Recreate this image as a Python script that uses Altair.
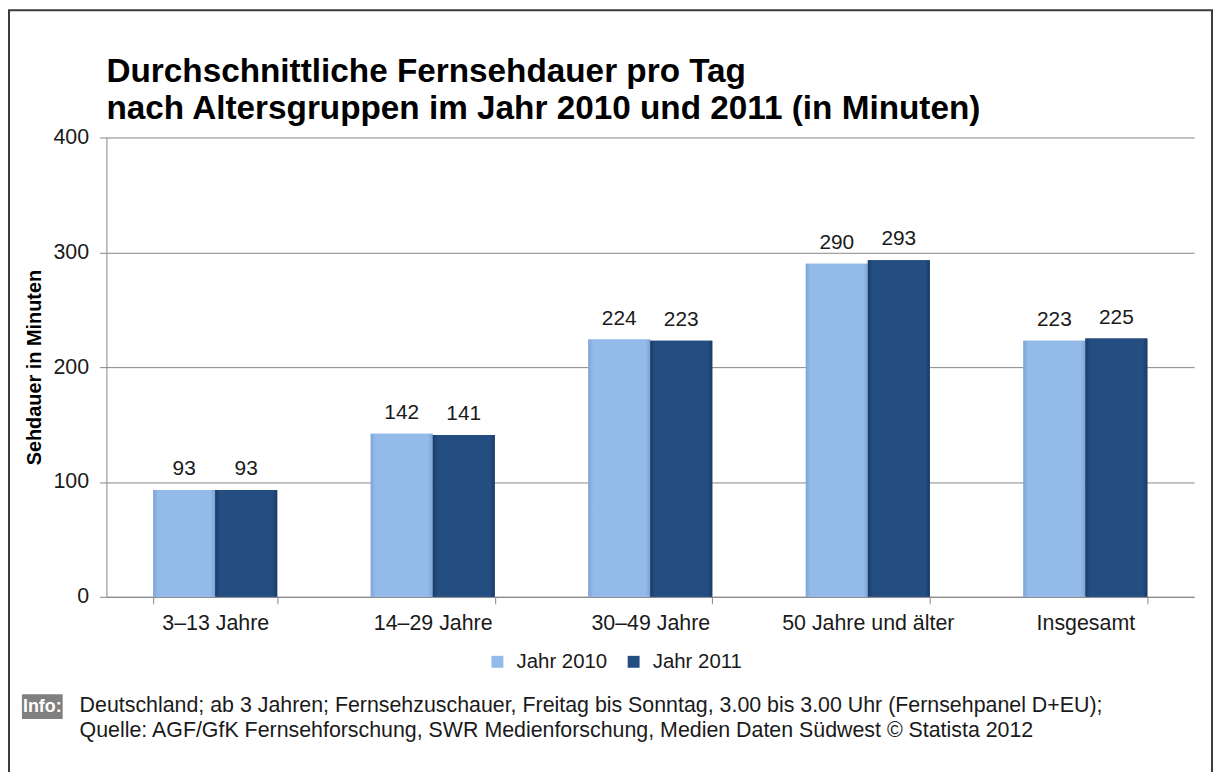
import altair as alt
import pandas as pd

categories = ["3–13 Jahre", "14–29 Jahre", "30–49 Jahre", "50 Jahre und älter", "Insgesamt"]
years = ["Jahr 2010", "Jahr 2011"]
v2010 = [93, 142, 224, 290, 223]
v2011 = [93, 141, 223, 293, 225]
y_ticks = [0, 100, 200, 300, 400]

title_lines = ["Durchschnittliche Fernsehdauer pro Tag",
               "nach Altersgruppen im Jahr 2010 und 2011 (in Minuten)"]
y_title = "Sehdauer in Minuten"
info_lines = ["Deutschland; ab 3 Jahren; Fernsehzuschauer, Freitag bis Sonntag, 3.00 bis 3.00 Uhr (Fernsehpanel D+EU);",
              "Quelle: AGF/GfK Fernsehforschung, SWR Medienforschung, Medien Daten Südwest © Statista 2012"]

colors = ["#93BBEA", "#244E82"]
edge_colors = ["#7EA4D4", "#1A3C66"]

rows = []
for c, a, b in zip(categories, v2010, v2011):
    rows.append({"cat": c, "year": years[0], "val": a})
    rows.append({"cat": c, "year": years[1], "val": b})
df = pd.DataFrame(rows)

FONT = "Liberation Sans"
FS = 21.5
W, H = 1094, 462

x_enc = alt.X("cat:N", sort=categories, title=None,
              scale=alt.Scale(paddingInner=0.43, paddingOuter=0.215),
              axis=alt.Axis(labelAngle=0, tickBand="extent", tickSize=7,
                            labelPadding=9, labelFontSize=FS, labelColor="#1a1a1a",
                            domainColor="#868686", tickColor="#868686", labelFont=FONT))
xo_enc = alt.XOffset("year:N", sort=years, scale=alt.Scale(paddingInner=0, paddingOuter=0))
y_enc = alt.Y("val:Q", scale=alt.Scale(domain=[0, 400], nice=False),
              axis=alt.Axis(values=y_ticks, title=y_title, titleFont=FONT, titleFontSize=20,
                            titleFontWeight="bold", titleColor="#000", titlePadding=8,
                            tickSize=7, labelPadding=11, labelFontSize=FS, labelColor="#1a1a1a",
                            labelFont=FONT, gridColor="#868686", domainColor="#868686",
                            tickColor="#868686"))

base = alt.Chart(df)

bars = base.mark_bar().encode(
    x=x_enc, xOffset=xo_enc, y=y_enc,
    color=alt.Color("year:N", sort=years, scale=alt.Scale(domain=years, range=colors),
                    legend=alt.Legend(title=None, orient="none", direction="horizontal",
                                      legendX=383, legendY=517, padding=0, symbolType="square",
                                      symbolSize=144, symbolStrokeWidth=1,
                                      labelFontSize=20.5, labelFont=FONT, labelColor="#1a1a1a",
                                      columnPadding=16, labelOffset=9)),
)

overlays = []
for i, yr in enumerate(years):
    grad = alt.Gradient(gradient="linear", x1=0, x2=1, y1=0, y2=0,
                        stops=[alt.GradientStop(offset=0, color=edge_colors[i]),
                               alt.GradientStop(offset=0.08, color=colors[i]),
                               alt.GradientStop(offset=0.92, color=colors[i]),
                               alt.GradientStop(offset=1, color=edge_colors[i])])
    overlays.append(
        base.transform_filter(alt.datum.year == yr)
        .mark_bar(color=grad)
        .encode(x=alt.X("cat:N", sort=categories), xOffset=xo_enc, y="val:Q")
    )

labels = base.mark_text(baseline="alphabetic", dy=-15, fontSize=21, font=FONT, color="#1a1a1a").encode(
    x=alt.X("cat:N", sort=categories), xOffset=xo_enc, y="val:Q", text="val:Q")

one = pd.DataFrame({"k": [0]})

border = alt.Chart(one).mark_rect(filled=False, stroke="#3c3c3c", strokeWidth=2).encode(
    x=alt.value(-98), x2=alt.value(1112), y=alt.value(-128), y2=alt.value(700))

title1 = alt.Chart(one).mark_text(text=title_lines[0], align="left", baseline="alphabetic",
                                  fontSize=33.5, fontWeight="bold", font=FONT, color="#000").encode(
    x=alt.value(0), y=alt.value(-56))
title2 = alt.Chart(one).mark_text(text=title_lines[1], align="left", baseline="alphabetic",
                                  fontSize=33.5, fontWeight="bold", font=FONT, color="#000").encode(
    x=alt.value(0), y=alt.value(-19))

info_box = alt.Chart(one).mark_rect(color="#808080").encode(
    x=alt.value(-85), x2=alt.value(-44), y=alt.value(560), y2=alt.value(585))
info_label = alt.Chart(one).mark_text(text="Info:", align="center", baseline="middle",
                                      fontSize=18, fontWeight="bold", font=FONT, color="#fff").encode(
    x=alt.value(-64.5), y=alt.value(573))
info1 = alt.Chart(one).mark_text(text=info_lines[0], align="left", baseline="alphabetic",
                                 fontSize=FS, font=FONT, color="#1a1a1a").encode(
    x=alt.value(-27), y=alt.value(578))
info2 = alt.Chart(one).mark_text(text=info_lines[1], align="left", baseline="alphabetic",
                                 fontSize=FS, font=FONT, color="#1a1a1a").encode(
    x=alt.value(-27), y=alt.value(603))

chart = alt.layer(bars, *overlays, labels, border, title1, title2, info_box, info_label, info1, info2).properties(
    width=W, height=H,
    autosize=alt.AutoSizeParams(type="none"),
    padding={"left": 99, "top": 128, "right": 20, "bottom": 174},
    background="#ffffff",
).configure_view(stroke=None).configure_axis(labelFont=FONT)

chart.save("out.html", embed_options={"renderer": "svg", "actions": False})
